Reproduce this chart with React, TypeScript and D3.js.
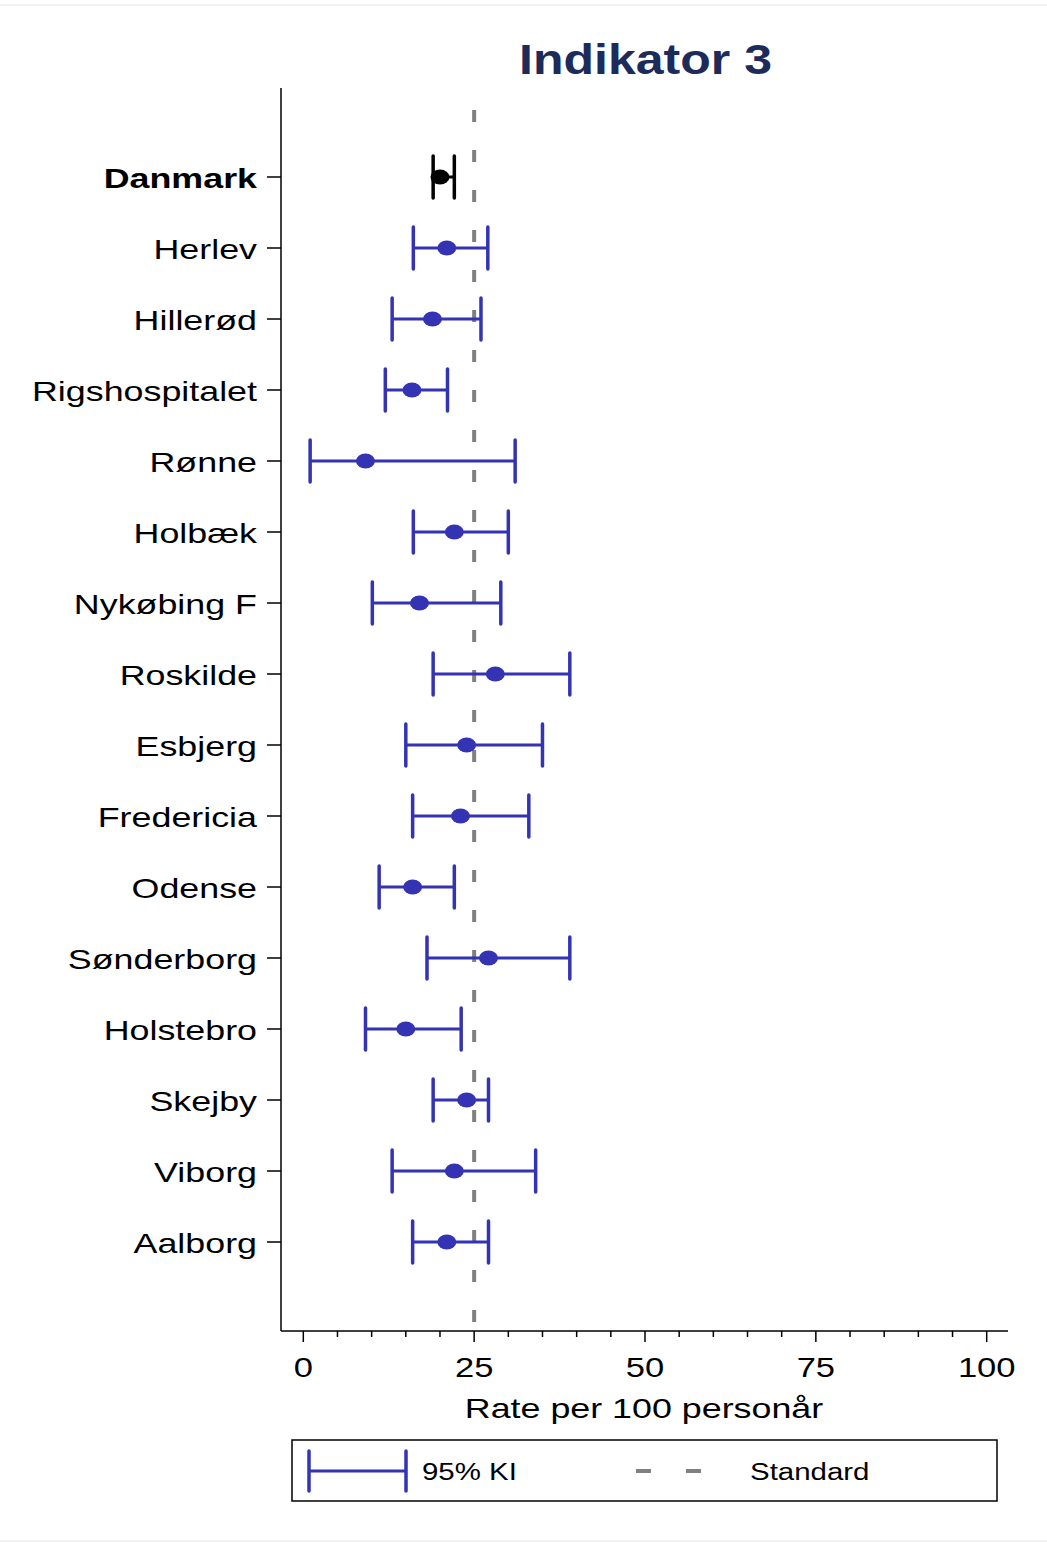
import React from "react";
import * as d3 from "d3";

const units = ["Danmark", "Herlev", "Hillerød", "Rigshospitalet", "Rønne", "Holbæk", "Nykøbing F", "Roskilde", "Esbjerg", "Fredericia", "Odense", "Sønderborg", "Holstebro", "Skejby", "Viborg", "Aalborg"];
const rates = [20.0, 21.0, 18.9, 15.9, 9.1, 22.1, 17.0, 28.1, 23.9, 23.0, 16.0, 27.1, 15.0, 23.9, 22.1, 21.0];
const lower = [19.0, 16.1, 13.0, 12.0, 1.0, 16.1, 10.1, 19.0, 15.0, 16.0, 11.1, 18.1, 9.1, 19.0, 13.0, 16.0];
const upper = [22.1, 27.0, 26.0, 21.1, 31.0, 30.0, 28.9, 39.0, 35.0, 33.0, 22.1, 39.0, 23.1, 27.1, 34.0, 27.1];
const standard = 25;
const majorTicks = [0, 25, 50, 75, 100];
const minorTicks = d3.range(0, 101, 5);

const W = 1047;
const H = 1543;
const SX = 1.28;
const FONT = "'Liberation Sans', Arial, sans-serif";
const BLUE = "#3333b3";

function T({ x, y, anchor = "start", size = 28, weight = "normal", fill = "#000", children }: any) {
  return (
    <text
      transform={`translate(${x},${y}) scale(${SX},1)`}
      textAnchor={anchor}
      fontSize={size}
      fontWeight={weight}
      fill={fill}
      fontFamily={FONT}
    >
      {children}
    </text>
  );
}

export default function App() {
  const x = d3.scaleLinear().domain([0, 100]).range([303.3, 986.7]);
  const y = d3.scalePoint<string>().domain(units).range([177, 1242]);
  const axisX0 = 281;
  const axisY = 1331;
  const capH = 21;

  return (
    <svg width={W} height={H} style={{ position: "absolute", left: 0, top: 0, display: "block" }}>
      <rect width={W} height={H} fill="#fff" />
      <line x1={0} x2={W} y1={5} y2={5} stroke="#eeeeee" strokeWidth={1.5} />
      <line x1={0} x2={W} y1={1541} y2={1541} stroke="#eeeeee" strokeWidth={1.5} />

      <text x={645.5} y={74} textAnchor="middle" fontSize={43} fontWeight="bold" fill="#1c2b5a" fontFamily={FONT} textLength={253} lengthAdjust="spacingAndGlyphs">
        Indikator 3
      </text>

      {/* standard line */}
      <line x1={x(standard)} x2={x(standard)} y1={110} y2={1322} stroke="#808080" strokeWidth={4} strokeDasharray="12 28" />

      {/* axes */}
      <line x1={axisX0} x2={axisX0} y1={88} y2={axisY} stroke="#000" strokeWidth={1.5} />
      <line x1={axisX0} x2={1008} y1={axisY} y2={axisY} stroke="#000" strokeWidth={1.5} />
      {minorTicks.map((t) => (
        <line key={"m" + t} x1={x(t)} x2={x(t)} y1={axisY} y2={majorTicks.includes(t) ? axisY + 11 : axisY + 6} stroke="#000" strokeWidth={1.5} />
      ))}
      {majorTicks.map((t) => (
        <T key={"l" + t} x={x(t)} y={1377} anchor="middle" size={27}>{t}</T>
      ))}
      <T x={644} y={1418} anchor="middle" size={28}>Rate per 100 personår</T>

      {units.map((u, i) => {
        const yy = y(u)!;
        const col = i === 0 ? "#000" : BLUE;
        return (
          <g key={u}>
            <line x1={267} x2={axisX0} y1={yy} y2={yy} stroke="#000" strokeWidth={1.5} />
            <T x={257} y={yy + 11} anchor="end" size={28} weight={i === 0 ? "bold" : "normal"}>{u}</T>
            <line x1={x(lower[i])} x2={x(upper[i])} y1={yy} y2={yy} stroke={col} strokeWidth={3} />
            <line x1={x(lower[i])} x2={x(lower[i])} y1={yy - capH} y2={yy + capH} stroke={col} strokeWidth={3.5} strokeLinecap="round" />
            <line x1={x(upper[i])} x2={x(upper[i])} y1={yy - capH} y2={yy + capH} stroke={col} strokeWidth={3.5} strokeLinecap="round" />
            <ellipse cx={x(rates[i])} cy={yy} rx={9.5} ry={7.5} fill={col} />
          </g>
        );
      })}

      {/* legend */}
      <rect x={292} y={1440} width={705} height={61} fill="none" stroke="#000" strokeWidth={1.5} />
      <line x1={309} x2={406} y1={1471} y2={1471} stroke={BLUE} strokeWidth={3} />
      <line x1={309} x2={309} y1={1451} y2={1491} stroke={BLUE} strokeWidth={3.5} strokeLinecap="round" />
      <line x1={406} x2={406} y1={1451} y2={1491} stroke={BLUE} strokeWidth={3.5} strokeLinecap="round" />
      <T x={422} y={1480} size={23}>95% KI</T>
      <line x1={636} x2={701} y1={1471} y2={1471} stroke="#808080" strokeWidth={4} strokeDasharray="15 35" />
      <T x={750} y={1480} size={23}>Standard</T>
    </svg>
  );
}
